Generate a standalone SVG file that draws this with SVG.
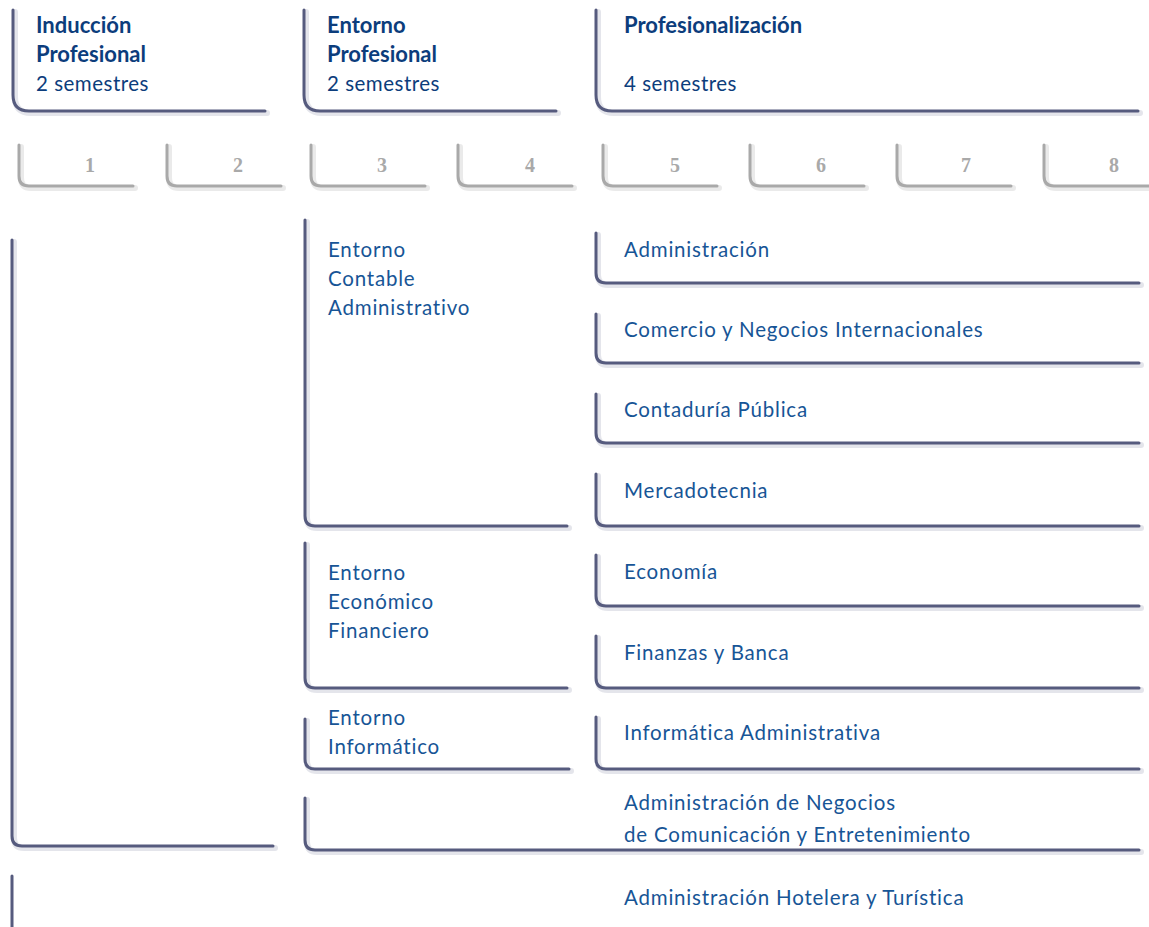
<svg xmlns="http://www.w3.org/2000/svg" width="1149" height="927" viewBox="0 0 1149 927">
<defs>
<style>
.br{fill:none;stroke:#565b7e;stroke-width:3;stroke-linecap:round}
.sh{fill:none;stroke:#c9cbd8;stroke-width:6;stroke-linecap:round;opacity:0.5}
.gb{fill:none;stroke:#a9a9a9;stroke-width:3;stroke-linecap:round}
.gs{fill:none;stroke:#dcdcdc;stroke-width:6;stroke-linecap:round;opacity:0.6}
.hd{font-family:Lato,"Liberation Sans",sans-serif;font-size:22px;font-weight:bold;fill:#0c3d7c}
.hs{font-family:Lato,"Liberation Sans",sans-serif;font-size:20.5px;letter-spacing:0.5px;fill:#0c3d7c}
.tx{font-family:Lato,"Liberation Sans",sans-serif;font-size:20.5px;letter-spacing:0.8px;fill:#175596}
.nm{font-family:"Liberation Serif",serif;font-size:20px;font-weight:bold;fill:#a9a9a9;text-anchor:middle}
</style>
</defs>
<rect width="1149" height="927" fill="#ffffff"/>
<g id="header-induccion">
<path class="sh" d="M15,12 V97 Q15,113 31,113 H267"/>
<path class="br" d="M13,10 V95 Q13,111 29,111 H265"/>
<text class="hd" x="36" y="33">Inducción</text>
<text class="hd" x="36" y="62">Profesional</text>
<text class="hs" x="36" y="91">2 semestres</text>
</g>
<g id="header-entorno">
<path class="sh" d="M306,12 V97 Q306,113 322,113 H558"/>
<path class="br" d="M304,10 V95 Q304,111 320,111 H556"/>
<text class="hd" x="327" y="33">Entorno</text>
<text class="hd" x="327" y="62">Profesional</text>
<text class="hs" x="327" y="91">2 semestres</text>
</g>
<g id="header-profesionalizacion">
<path class="sh" d="M598,12 V97 Q598,113 614,113 H1140"/>
<path class="br" d="M596,10 V95 Q596,111 612,111 H1138"/>
<text class="hd" x="624" y="33">Profesionalización</text>
<text class="hs" x="624" y="91">4 semestres</text>
</g>
<g id="semestres">
<g id="sem1"><path class="gs" d="M21,147 V178 Q21,188 31,188 H135"/><path class="gb" d="M19,145 V176 Q19,186 29,186 H133"/><text class="nm" x="90" y="172">1</text></g>
<g id="sem2"><path class="gs" d="M169,147 V178 Q169,188 179,188 H283"/><path class="gb" d="M167,145 V176 Q167,186 177,186 H281"/><text class="nm" x="238" y="172">2</text></g>
<g id="sem3"><path class="gs" d="M313,147 V178 Q313,188 323,188 H427"/><path class="gb" d="M311,145 V176 Q311,186 321,186 H425"/><text class="nm" x="382" y="172">3</text></g>
<g id="sem4"><path class="gs" d="M460,147 V178 Q460,188 470,188 H574"/><path class="gb" d="M458,145 V176 Q458,186 468,186 H572"/><text class="nm" x="530" y="172">4</text></g>
<g id="sem5"><path class="gs" d="M605,147 V178 Q605,188 615,188 H719"/><path class="gb" d="M603,145 V176 Q603,186 613,186 H717"/><text class="nm" x="675" y="172">5</text></g>
<g id="sem6"><path class="gs" d="M752,147 V178 Q752,188 762,188 H866"/><path class="gb" d="M750,145 V176 Q750,186 760,186 H864"/><text class="nm" x="821" y="172">6</text></g>
<g id="sem7"><path class="gs" d="M899,147 V178 Q899,188 909,188 H1013"/><path class="gb" d="M897,145 V176 Q897,186 907,186 H1011"/><text class="nm" x="966" y="172">7</text></g>
<g id="sem8"><path class="gs" d="M1046,147 V178 Q1046,188 1056,188 H1150"/><path class="gb" d="M1044,145 V176 Q1044,186 1054,186 H1149"/><text class="nm" x="1114" y="172">8</text></g>
</g>
<g id="connectors">
<path class="sh" d="M14,242 V838 Q14,848 24,848 H275"/>
<path class="br" d="M12,240 V836 Q12,846 22,846 H273"/>
<path class="br" d="M12,876 V927"/>
<path class="sh" d="M307,800 V842 Q307,852 317,852 H1141"/>
<path class="br" d="M305,798 V840 Q305,850 315,850 H1139"/>
</g>
<g id="entorno-contable">
<path class="sh" d="M307,222 V518 Q307,528 317,528 H569"/>
<path class="br" d="M305,220 V516 Q305,526 315,526 H567"/>
<text class="tx" x="328" y="257">Entorno</text>
<text class="tx" x="328" y="286">Contable</text>
<text class="tx" x="328" y="315">Administrativo</text>
</g>
<g id="entorno-economico">
<path class="sh" d="M307,545 V680 Q307,690 317,690 H569"/>
<path class="br" d="M305,543 V678 Q305,688 315,688 H567"/>
<text class="tx" x="328" y="580">Entorno</text>
<text class="tx" x="328" y="609">Económico</text>
<text class="tx" x="328" y="638">Financiero</text>
</g>
<g id="entorno-informatico">
<path class="sh" d="M307,721 V761 Q307,771 317,771 H571"/>
<path class="br" d="M305,719 V759 Q305,769 315,769 H569"/>
<text class="tx" x="328" y="725">Entorno</text>
<text class="tx" x="328" y="754">Informático</text>
</g>
<g id="administracion">
<path class="sh" d="M598,235 V275 Q598,285 608,285 H1141"/>
<path class="br" d="M596,233 V273 Q596,283 606,283 H1139"/>
<text class="tx" x="624" y="257">Administración</text>
</g>
<g id="comercio">
<path class="sh" d="M598,316 V355 Q598,365 608,365 H1141"/>
<path class="br" d="M596,314 V353 Q596,363 606,363 H1139"/>
<text class="tx" x="624" y="337">Comercio y Negocios Internacionales</text>
</g>
<g id="contaduria">
<path class="sh" d="M598,396 V435 Q598,445 608,445 H1141"/>
<path class="br" d="M596,394 V433 Q596,443 606,443 H1139"/>
<text class="tx" x="624" y="417">Contaduría Pública</text>
</g>
<g id="mercadotecnia">
<path class="sh" d="M598,476 V518 Q598,528 608,528 H1141"/>
<path class="br" d="M596,474 V516 Q596,526 606,526 H1139"/>
<text class="tx" x="624" y="498">Mercadotecnia</text>
</g>
<g id="economia">
<path class="sh" d="M598,557 V598 Q598,608 608,608 H1141"/>
<path class="br" d="M596,555 V596 Q596,606 606,606 H1139"/>
<text class="tx" x="624" y="579">Economía</text>
</g>
<g id="finanzas">
<path class="sh" d="M598,638 V680 Q598,690 608,690 H1141"/>
<path class="br" d="M596,636 V678 Q596,688 606,688 H1139"/>
<text class="tx" x="624" y="660">Finanzas y Banca</text>
</g>
<g id="informatica-adm">
<path class="sh" d="M598,719 V761 Q598,771 608,771 H1141"/>
<path class="br" d="M596,717 V759 Q596,769 606,769 H1139"/>
<text class="tx" x="624" y="740">Informática Administrativa</text>
</g>
<g id="adm-negocios">
<text class="tx" x="624" y="810">Administración de Negocios</text>
<text class="tx" x="624" y="842">de Comunicación y Entretenimiento</text>
</g>
<g id="adm-hotelera">
<text class="tx" x="624" y="905">Administración Hotelera y Turística</text>
</g>
</svg>
